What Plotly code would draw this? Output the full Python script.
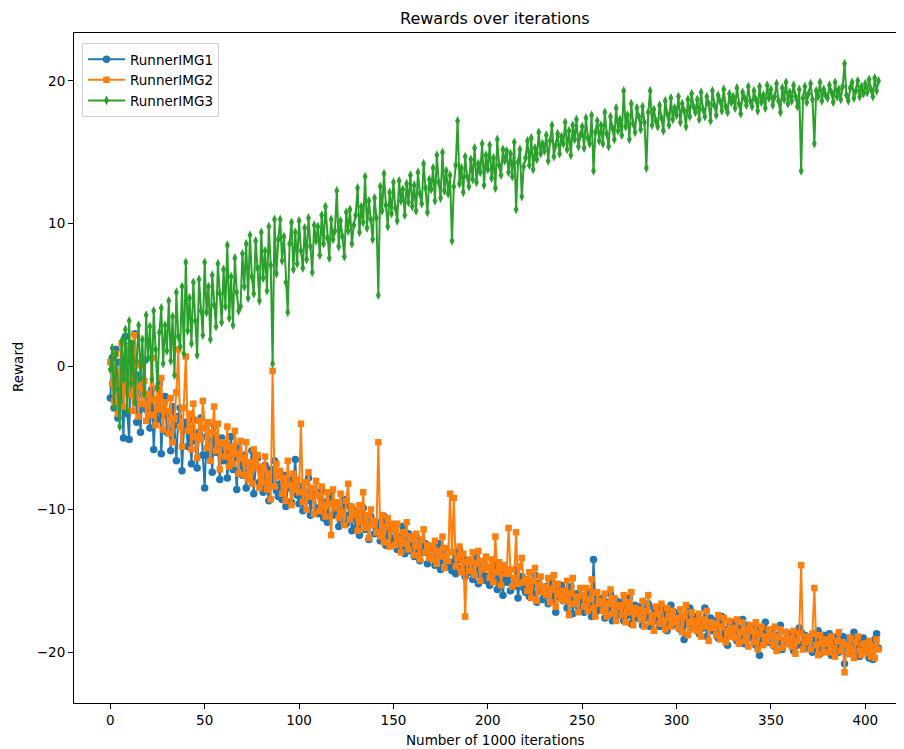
import plotly.graph_objects as go

runner_img1 = [
    -2.2, 0.6, -2.9, 1.2, -3.6, 0.3, -1.8, -5.0, 2.1, -3.3,
    -5.1, 1.6, -1.4, 2.3, -3.9, -0.6, -4.6, -1.9, 0.4, -3.0,
    -2.4, -4.3, -1.6, -5.8, -2.9, -3.7, -1.2, -6.1, -3.4, -2.1,
    -4.6, -3.2, -5.9, -2.8, -4.1, -6.6, -3.5, -2.9, -7.3, -4.4,
    -3.9, -5.6, -4.3, -6.8, -3.7, -5.2, -7.1, -4.6, -3.6, -6.2,
    -8.5, -4.9, -6.3, -5.2, -7.4, -4.1, -6.0, -5.5, -7.9, -5.0,
    -6.6, -5.4, -7.8, -6.0, -4.9, -7.2, -6.4, -8.6, -5.7, -6.9,
    -7.6, -6.2, -8.5, -6.8, -7.3, -5.9, -8.9, -7.0, -6.4, -8.1,
    -7.4, -8.8, -6.9, -8.3, -9.4, -7.2, -8.0, -6.6, -8.7, -9.1,
    -8.2, -9.3, -7.6, -9.8, -8.5, -7.9, -9.5, -8.1, -6.5, -9.0,
    -9.6, -8.4, -10.1, -8.9, -9.4, -7.8, -10.4, -9.0, -8.6, -9.9,
    -10.3, -9.1, -8.7, -10.6, -9.5, -10.9, -9.2, -8.9, -10.4, -9.8,
    -10.0, -11.2, -9.6, -10.7, -9.3, -11.0, -10.4, -9.8, -11.5, -10.1,
    -11.3, -10.2, -11.8, -10.6, -9.9, -11.4, -10.8, -12.1, -10.5, -11.0,
    -11.7, -10.9, -11.4, -12.2, -11.0, -10.5, -12.5, -11.6, -11.1, -12.0,
    -12.3, -11.5, -12.8, -11.9, -12.6, -11.2, -13.1, -12.2, -11.7, -12.9,
    -12.5, -13.3, -11.9, -12.8, -13.6, -12.2, -13.0, -12.4, -13.8, -12.7,
    -13.4, -12.6, -13.9, -13.1, -12.4, -14.2, -13.0, -13.6, -12.8, -14.0,
    -13.7, -14.3, -13.0, -14.5, -13.5, -12.8, -14.1, -13.4, -14.7, -13.9,
    -14.4, -13.6, -14.9, -14.1, -13.3, -15.2, -14.0, -14.6, -13.8, -15.0,
    -14.7, -15.3, -14.2, -15.0, -13.9, -15.6, -14.5, -14.9, -16.0, -14.3,
    -15.1, -14.6, -15.7, -14.9, -15.4, -14.2, -16.2, -15.0, -14.7, -15.5,
    -15.8, -14.9, -16.1, -15.3, -15.9, -14.6, -16.5, -15.2, -15.7, -16.3,
    -16.0, -15.4, -16.6, -15.1, -16.3, -15.8, -17.2, -15.6, -16.1, -15.3,
    -16.4, -15.7, -16.9, -16.0, -15.4, -17.3, -16.2, -15.9, -16.8, -16.1,
    -16.6, -17.2, -16.0, -16.9, -15.8, -17.5, -13.5, -16.7, -17.1, -16.3,
    -16.9, -16.2, -17.6, -16.5, -17.0, -15.9, -17.8, -16.8, -16.4, -17.4,
    -17.1, -16.5, -17.8, -16.9, -17.4, -16.2, -18.0, -17.2, -16.7, -17.6,
    -17.3, -16.8, -18.1, -17.0, -17.6, -16.6, -18.2, -17.4, -16.9, -17.8,
    -17.5, -18.2, -16.9, -17.8, -17.2, -18.5, -17.0, -16.7, -18.1, -17.6,
    -17.9, -17.2, -18.4, -17.6, -19.1, -17.4, -18.0, -16.9, -18.3, -17.7,
    -18.1, -17.5, -18.7, -17.8, -18.3, -16.9, -18.9, -18.0, -17.6, -18.5,
    -18.3, -17.8, -19.0, -18.1, -17.5, -18.8, -18.4, -19.5, -17.9, -18.2,
    -18.6, -17.9, -19.2, -18.3, -18.9, -17.7, -19.4, -18.5, -18.1, -19.0,
    -18.8, -18.2, -19.5, -18.5, -20.2, -18.3, -19.1, -17.9, -18.7, -19.3,
    -19.0, -18.4, -19.6, -18.8, -19.3, -18.1, -19.8, -19.2, -18.6, -19.4,
    -19.2, -18.7, -19.9, -18.9, -19.5, -18.3, -18.6, -19.4, -18.8, -19.7,
    -19.3, -18.9, -20.0, -19.1, -19.6, -18.5, -20.1, -19.2, -18.8, -19.8,
    -19.5, -18.7, -20.2, -19.3, -19.8, -18.9, -20.0, -19.4, -18.9, -20.8,
    -19.6, -19.0, -20.1, -19.4, -18.6, -19.9, -19.2, -20.3, -19.5, -19.0,
    -19.8, -19.3, -20.4, -19.6, -20.5, -19.1, -18.7, -19.7,
]

runner_img2 = [
    0.3, -1.2, -2.4, 0.9, -3.3, -0.4, 1.6, -2.8, -1.1, 1.2,
    -2.0, 0.4, -3.1, 2.2, -1.4, -3.5, 0.1, -2.6, -1.0, -3.8,
    -1.9, -3.4, 0.6, -2.3, -4.1, -1.5, -3.0, -0.8, -4.4, -2.5,
    -3.1, -4.7, -2.2, -5.3, -3.6, -1.8, 1.2, -4.2, -5.6, -2.9,
    0.7, -4.5, -3.3, -5.8, -2.6, -4.9, -6.4, -3.8, -5.1, -2.4,
    -4.3, -5.7, -3.9, -6.6, -4.6, -2.8, -5.9, -4.0, -7.2, -5.3,
    -5.4, -6.3, -4.2, -7.0, -5.6, -6.8, -4.5, -6.1, -7.5, -5.2,
    -6.4, -7.6, -5.3, -7.9, -6.7, -8.2, -5.8, -7.1, -6.2, -8.5,
    -7.0, -8.1, -6.3, -8.6, -7.5, -9.3, -0.3, -8.4, -6.8, -7.7,
    -7.3, -8.9, -7.8, -9.4, -6.6, -8.3, -9.7, -7.5, -8.6, -7.9,
    -8.8, -4.0, -9.5, -8.1, -10.0, -7.4, -9.1, -8.5, -10.3, -8.0,
    -9.0, -10.1, -8.4, -9.7, -10.5, -8.8, -9.6, -11.8, -8.6, -9.9,
    -9.5, -10.6, -8.9, -10.2, -11.1, -9.4, -8.2, -10.7, -9.8, -10.4,
    -10.2, -11.5, -9.7, -10.9, -8.8, -11.3, -10.4, -12.0, -10.0, -11.1,
    -10.8, -11.6, -5.3, -11.9, -10.4, -12.3, -11.2, -10.6, -12.6, -11.0,
    -11.4, -12.5, -11.0, -12.1, -13.0, -11.6, -12.4, -10.9, -12.8, -11.9,
    -12.0, -13.2, -11.7, -12.6, -13.5, -12.1, -11.4, -13.0, -12.5, -13.4,
    -12.6, -13.5, -12.2, -13.8, -12.9, -13.3, -11.9, -14.1, -12.7, -13.6,
    -8.9, -13.0, -9.2, -14.0, -13.4, -12.6, -14.4, -13.1, -17.5, -13.7,
    -13.5, -14.3, -13.0, -14.6, -13.8, -12.9, -15.0, -13.6, -14.2, -13.3,
    -14.0, -14.8, -13.5, -15.1, -11.9, -14.4, -13.7, -15.3, -14.1, -13.9,
    -14.5, -11.3, -14.2, -15.4, -14.8, -11.6, -15.2, -14.0, -13.4, -15.1,
    -14.9, -15.7, -14.4, -16.2, -15.0, -14.1, -16.4, -15.3, -14.7, -15.8,
    -15.4, -16.0, -14.8, -16.5, -15.6, -14.6, -16.8, -15.2, -15.9, -16.3,
    -15.7, -16.4, -15.0, -17.4, -15.9, -14.8, -16.6, -16.1, -17.2, -15.5,
    -16.0, -16.8, -15.5, -17.1, -16.3, -14.9, -16.9, -17.5, -15.8, -16.6,
    -16.4, -17.1, -15.9, -17.5, -16.6, -15.6, -17.3, -16.2, -17.8, -16.7,
    -16.8, -17.4, -16.0, -17.9, -16.5, -17.2, -15.8, -18.1, -16.9, -17.3,
    -17.0, -17.7, -16.4, -18.2, -17.1, -16.0, -17.9, -17.4, -18.5, -16.8,
    -17.3, -18.0, -16.6, -17.8, -18.4, -16.9, -17.6, -18.2, -17.1, -17.9,
    -17.6, -18.3, -17.0, -18.6, -17.5, -16.7, -18.8, -17.9, -17.2, -18.4,
    -17.8, -18.5, -17.3, -18.9, -17.7, -18.2, -17.1, -19.2, -17.9, -18.3,
    -18.0, -18.8, -17.4, -19.1, -18.2, -17.6, -19.3, -18.5, -17.8, -18.9,
    -18.3, -19.0, -17.7, -19.4, -18.6, -17.9, -19.2, -18.4, -19.6, -18.1,
    -18.5, -19.3, -17.9, -19.8, -18.7, -18.2, -19.5, -18.9, -19.2, -18.4,
    -18.8, -19.5, -18.2, -19.9, -18.9, -18.4, -19.7, -19.1, -18.6, -19.4,
    -19.0, -19.6, -18.5, -20.1, -19.2, -18.7, -13.9, -19.8, -19.3, -18.9,
    -19.2, -19.8, -18.7, -15.5, -19.5, -20.2, -18.8, -19.4, -20.0, -19.1,
    -19.4, -20.0, -18.9, -19.7, -20.3, -19.2, -18.6, -19.9, -19.3, -21.4,
    -19.5, -20.1, -19.0, -19.8, -20.4, -19.3, -18.9, -19.9, -20.2, -19.4,
    -19.7, -20.0, -19.2, -20.3, -19.6, -20.4, -19.1, -19.8,
]

runner_img3 = [
    -0.2, 1.3, -2.8, 0.9, -1.6, -4.2, 1.8, -0.9, 2.6, -3.1,
    3.2, -1.2, 1.6, -2.5, 0.4, 2.9, -0.8, 1.9, -1.9, 3.6,
    0.6, 2.8, -0.9, 3.9, 1.2, -1.5, 2.4, 4.1, 0.2, 2.9,
    1.1, 4.6, 0.4, 3.5, -0.6, 5.2, 2.1, 1.4, 5.6, 0.9,
    7.3, 2.5, 4.8, 1.6, 5.9, 3.2, 0.8, 6.1, 3.9, 2.2,
    7.3, 3.8, 5.6, 1.9, 6.4, 4.3, 2.8, 7.2, 5.1, 3.1,
    6.8, 4.2, 8.5, 3.4, 6.3, 2.9, 7.6, 5.2, 3.9, 4.2,
    7.9, 5.6, 8.6, 4.8, 9.2, 6.3, 5.1, 8.8, 6.9, 4.6,
    9.4, 6.2, 8.1, 5.3, 9.8, 7.1, 0.2, 10.3, 6.5, 8.9,
    10.3, 7.4, 9.1, 5.9, 3.8, 8.6, 10.1, 6.8, 9.4, 7.2,
    10.2, 8.1, 6.9, 9.7, 7.5, 10.4, 8.4, 6.6, 9.9, 8.8,
    9.8, 7.8, 10.6, 8.6, 11.2, 9.0, 7.6, 10.3, 8.9, 9.5,
    12.3, 8.4, 10.2, 9.1, 7.7, 10.8, 9.5, 11.0, 8.6, 9.9,
    10.6, 12.5, 9.4, 11.2, 10.1, 13.3, 9.7, 11.6, 10.3, 8.9,
    11.8, 10.4, 5.0, 12.6, 10.9, 13.5, 11.3, 9.8, 12.2, 10.7,
    12.9, 11.1, 10.2, 13.0, 11.6, 12.4, 10.6, 12.8, 11.5, 13.4,
    11.2, 12.7, 10.9, 13.6, 12.1, 11.4, 14.2, 12.5, 10.8, 13.1,
    12.4, 13.9, 11.6, 14.8, 12.9, 11.8, 15.0, 12.3, 13.7, 12.1,
    13.4, 8.8, 12.6, 14.1, 17.2, 12.8, 13.9, 12.2, 14.7, 13.3,
    12.6, 14.5, 13.1, 15.3, 12.9, 14.2, 13.6, 15.6, 12.7, 14.8,
    13.8, 15.5, 13.2, 14.6, 12.5, 15.9, 14.1, 13.4, 15.2, 14.4,
    15.1, 13.6, 14.9, 13.3, 15.7, 11.0, 14.3, 15.2, 11.9, 14.0,
    14.6, 15.8, 14.1, 16.0, 13.8, 15.3, 14.5, 16.4, 14.9, 15.6,
    15.1, 16.2, 14.4, 15.8, 16.9, 14.7, 15.5, 16.3, 14.9, 16.1,
    15.6, 17.1, 15.2, 16.5, 14.8, 16.9, 15.9, 17.3, 15.4, 16.2,
    16.8, 15.3, 17.4, 16.0, 15.6, 17.6, 13.7, 16.4, 17.2, 15.8,
    16.9, 15.6, 17.8, 16.3, 15.4, 17.5, 16.7, 15.9, 18.1, 16.5,
    17.3, 16.2, 19.3, 16.8, 17.6, 15.9, 18.4, 17.0, 16.4, 18.1,
    17.5, 16.6, 18.2, 17.1, 13.9, 17.8, 19.3, 16.9, 18.0, 17.2,
    16.8, 18.3, 17.4, 16.5, 18.6, 17.7, 16.9, 18.8, 17.3, 18.1,
    17.6, 18.9, 17.1, 18.4, 17.9, 16.8, 18.7, 17.5, 19.1, 18.2,
    17.8, 18.7, 17.3, 19.2, 18.0, 17.5, 18.9, 18.4, 17.2, 19.3,
    18.3, 17.6, 19.0, 18.6, 17.9, 19.4, 18.2, 17.8, 19.1, 18.5,
    18.9, 18.1, 19.5, 18.4, 17.7, 19.2, 18.8, 18.3, 19.6, 18.6,
    18.2, 19.3, 18.7, 17.9, 19.6, 18.5, 19.0, 18.1, 19.7, 18.8,
    19.4, 18.3, 18.9, 19.8, 18.6, 17.8, 19.5, 18.7, 19.9, 18.4,
    19.2, 18.6, 19.7, 18.9, 18.2, 19.4, 13.7, 18.8, 19.6, 18.5,
    19.1, 19.8, 18.7, 15.6, 19.3, 18.9, 19.9, 18.6, 19.4, 19.0,
    18.8, 19.7, 19.2, 18.5, 19.9, 18.9, 19.4, 18.7, 19.6, 21.2,
    19.0, 18.6, 19.5, 19.9, 18.8, 19.3, 20.0, 18.9, 19.6, 19.1,
    19.8, 19.2, 20.1, 19.4, 18.9, 20.2, 19.3, 20.0,
]

series_names = ["RunnerIMG1", "RunnerIMG2", "RunnerIMG3"]
x_ticks = [0, 50, 100, 150, 200, 250, 300, 350, 400]
y_ticks = [-20, -10, 0, 10, 20]

FONT = "DejaVu Sans"
# The page body has an 8px margin, so the figure is shifted by (8, 8).
OFF = 8
W, H = 904 - OFF, 749 - OFF
ML, MR, MT, MB = 74 - OFF, 0, 33 - OFF, 46
PW, PH = W - ML - MR, H - MT - MB


def px_x(px):
    return (px - OFF - ML) / PW


def px_y(py):
    return 1 - (py - OFF - MT) / PH


fig = go.Figure()
styles = [
    ("#1f77b4", "circle", 7.5),
    ("#ff7f0e", "square", 6.5),
    ("#2ca02c", "diamond-tall", 7),
]
for name, ys, (col, sym, sz) in zip(series_names, [runner_img1, runner_img2, runner_img3], styles):
    fig.add_trace(go.Scatter(
        x=list(range(len(ys))), y=ys, name=name, mode="lines+markers",
        line=dict(color=col, width=2),
        marker=dict(color=col, symbol=sym, size=sz, line=dict(width=0)),
    ))

axis_common = dict(
    showgrid=False, zeroline=False, showline=True, linecolor="black", linewidth=1.1,
    ticks="outside", ticklen=5, tickwidth=1.1, tickcolor="black",
    tickfont=dict(family=FONT, size=13.5, color="black"),
)
fig.update_xaxes(range=[-19.23, 420.5], tickvals=x_ticks, mirror=True, **axis_common)
fig.update_yaxes(range=[-23.55, 23.35], tickvals=y_ticks, mirror=False, **axis_common)

fig.update_layout(
    width=W, height=H,
    margin=dict(l=ML, r=MR, t=MT, b=MB, pad=0),
    paper_bgcolor="white", plot_bgcolor="white",
    font=dict(family=FONT, size=13.5, color="black"),
    showlegend=True,
    legend=dict(
        x=px_x(82), y=px_y(43), xanchor="left", yanchor="top",
        bgcolor="rgba(255,255,255,0.8)", bordercolor="#d0d0d0", borderwidth=1,
        font=dict(family=FONT, size=13.5, color="black"), itemwidth=37,
    ),
    annotations=[
        dict(text="Rewards over iterations", xref="paper", yref="paper",
             x=px_x(495.5), y=px_y(19), xanchor="center", yanchor="middle",
             showarrow=False, font=dict(family=FONT, size=16, color="black")),
        dict(text="Number of 1000 iterations", xref="paper", yref="paper",
             x=px_x(495.5), y=px_y(740), xanchor="center", yanchor="middle",
             showarrow=False, font=dict(family=FONT, size=13.5, color="black")),
        dict(text="Reward", xref="paper", yref="paper",
             x=px_x(18), y=px_y(367), xanchor="center", yanchor="middle",
             textangle=-90, showarrow=False, font=dict(family=FONT, size=13.5, color="black")),
    ],
)

fig.write_html("out.html")
